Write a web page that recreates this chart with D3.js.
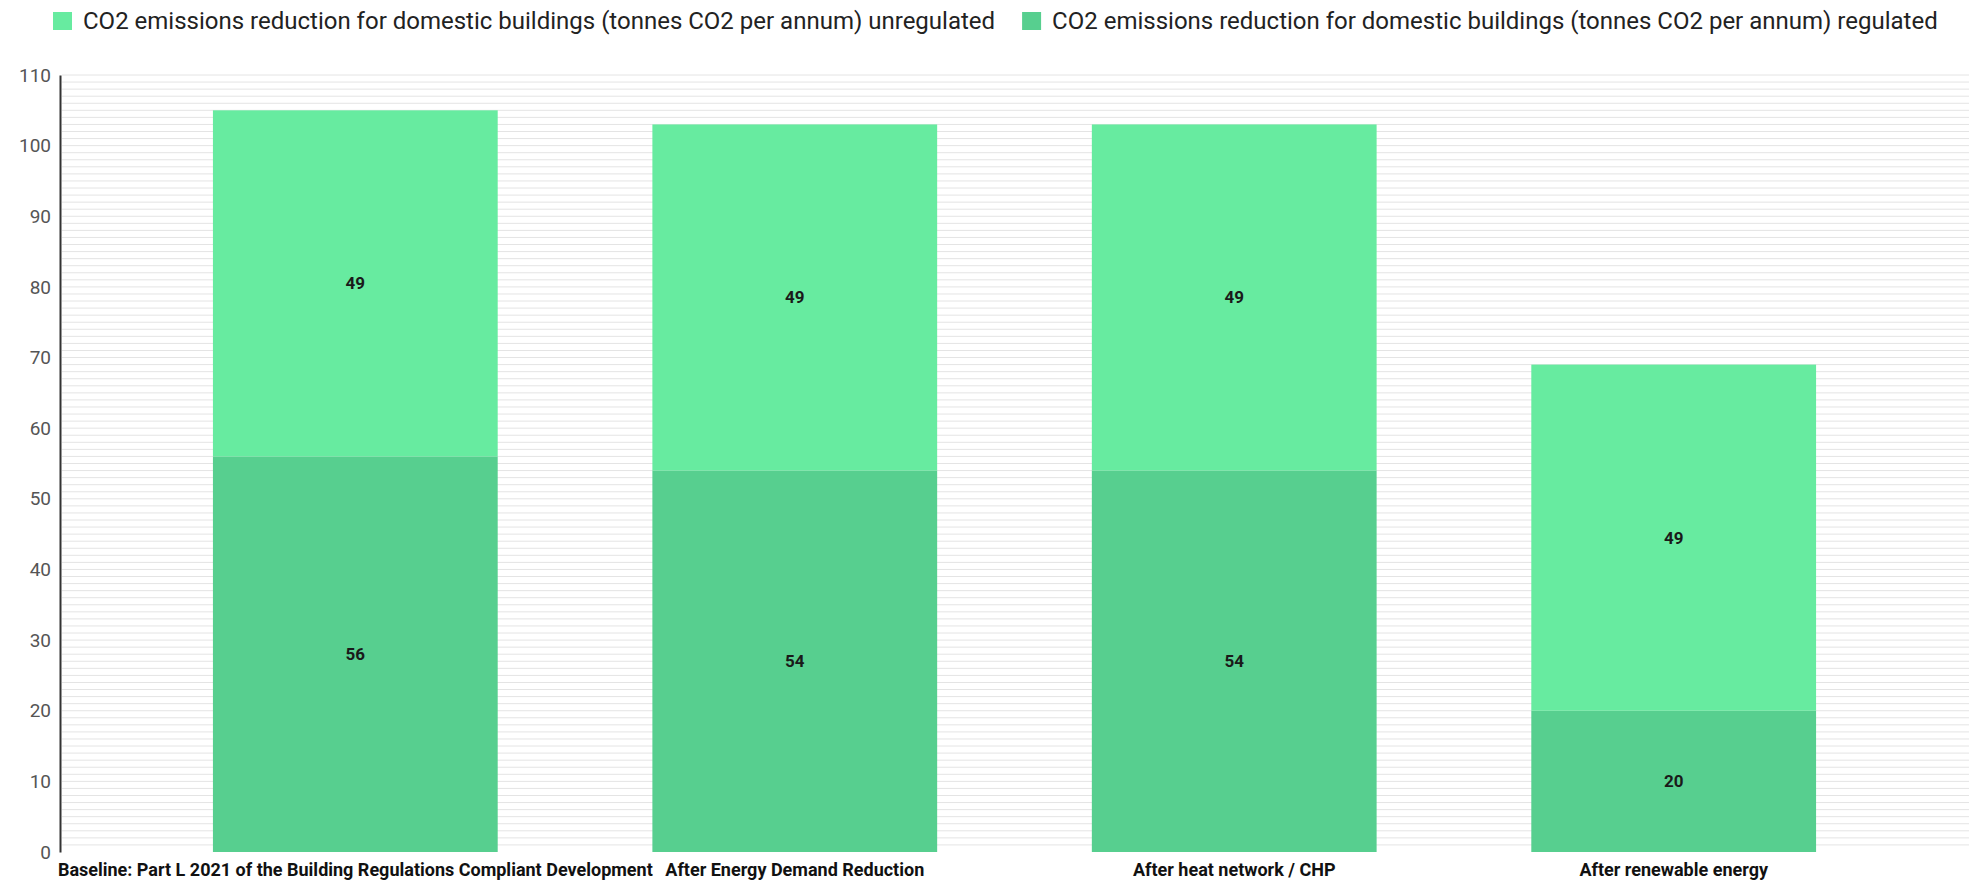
<!DOCTYPE html>
<html>
<head>
<meta charset="utf-8">
<script src="https://cdn.jsdelivr.net/npm/d3@7"></script>
<style>
  html, body { margin: 0; padding: 0; background: #fff; }
  svg { display: block; font-family: Roboto, "Noto Sans", sans-serif; }
</style>
</head>
<body>
<svg id="chart" width="1981" height="883"></svg>
<script>
const categories = [
  "Baseline: Part L 2021 of the Building Regulations Compliant Development",
  "After Energy Demand Reduction",
  "After heat network / CHP",
  "After renewable energy"
];
const regulated = [56, 54, 54, 20];
const unregulated = [49, 49, 49, 49];
const seriesNames = [
  "CO2 emissions reduction for domestic buildings (tonnes CO2 per annum) unregulated",
  "CO2 emissions reduction for domestic buildings (tonnes CO2 per annum) regulated"
];
const yTicks = [0, 10, 20, 30, 40, 50, 60, 70, 80, 90, 100, 110];

const colors = { unregulated: "#67eba0", regulated: "#57cf8f" };

const svg = d3.select("#chart");
const W = 1981, H = 883;
const m = { left: 60, right: 12, top: 75, bottom: 31 };

const x = d3.scaleBand().domain(categories).range([m.left, W - m.right])
  .paddingInner(0.352).paddingOuter(0.348);
const y = d3.scaleLinear().domain([0, 110]).range([H - m.bottom, m.top]);

// minor gridlines every 1 unit
const grid = d3.range(1, 111);
svg.append("g").selectAll("line").data(grid).join("line")
  .attr("x1", m.left + 2).attr("x2", W - m.right)
  .attr("y1", d => y(d)).attr("y2", d => y(d))
  .attr("stroke", "#e4e4e4").attr("stroke-width", 1);

// y axis
const yAxis = d3.axisLeft(y).tickValues(yTicks).tickSize(0).tickPadding(9);
const gy = svg.append("g").attr("transform", `translate(${m.left},0)`).call(yAxis);
gy.select(".domain").attr("stroke", "#333").attr("stroke-width", 2);
gy.selectAll("text").attr("font-size", 19).attr("fill", "#555")
  .attr("font-family", "Roboto, sans-serif");

// stacked data
const data = categories.map((c, i) => ({ cat: c, regulated: regulated[i], unregulated: unregulated[i] }));
const stack = d3.stack().keys(["regulated", "unregulated"])(data);

const gBars = svg.append("g");
stack.forEach(layer => {
  gBars.append("g").selectAll("rect").data(layer).join("rect")
    .attr("x", d => x(d.data.cat))
    .attr("width", x.bandwidth())
    .attr("y", d => y(d[1]))
    .attr("height", d => y(d[0]) - y(d[1]))
    .attr("fill", colors[layer.key]);
  gBars.append("g").selectAll("text").data(layer).join("text")
    .attr("x", d => x(d.data.cat) + x.bandwidth() / 2)
    .attr("y", d => (y(d[0]) + y(d[1])) / 2)
    .attr("dy", "0.35em")
    .attr("text-anchor", "middle")
    .attr("font-size", 17).attr("font-weight", "bold").attr("fill", "#1a1a1a")
    .text(d => d[1] - d[0]);
});

// x axis labels
const xAxis = d3.axisBottom(x).tickSize(0).tickPadding(11);
const gx = svg.append("g").attr("transform", `translate(0,${H - m.bottom})`).call(xAxis);
gx.select(".domain").remove();
gx.selectAll("text").attr("font-size", 18).attr("font-weight", "bold").attr("fill", "#111")
  .attr("font-family", "Roboto, sans-serif");

// legend
const legend = svg.append("g").attr("transform", "translate(53,12)");
const legendItems = [
  { name: seriesNames[0], color: colors.unregulated },
  { name: seriesNames[1], color: colors.regulated }
];
let lx = 0;
legendItems.forEach(item => {
  const g = legend.append("g").attr("transform", `translate(${lx},0)`);
  g.append("rect").attr("width", 19).attr("height", 18).attr("fill", item.color);
  const t = g.append("text").attr("x", 30).attr("y", 9).attr("dy", "0.35em")
    .attr("font-size", 24).attr("fill", "#222").text(item.name);
  lx += 30 + t.node().getComputedTextLength() + 27;
});
</script>
</body>
</html>
